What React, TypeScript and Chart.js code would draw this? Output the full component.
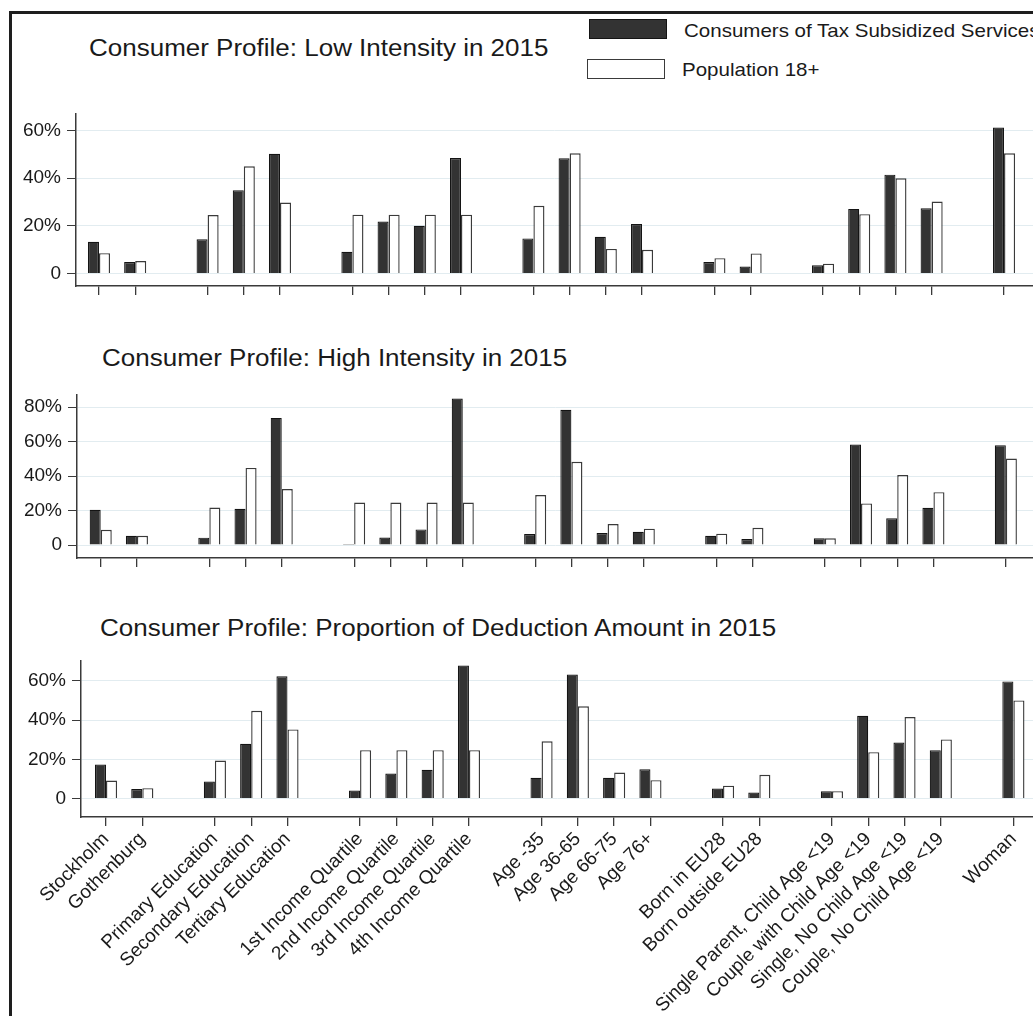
import React, { useEffect, useRef } from "react";
import { Chart, registerables } from "chart.js";

Chart.register(...registerables);

const FONT = "'Liberation Sans', Arial, Helvetica, sans-serif";
const TEXT = "#1a1a1a";

// ---------- data ----------
const categories = [
  "Stockholm",
  "Gothenburg",
  "Primary Education",
  "Secondary Education",
  "Tertiary Education",
  "1st Income Quartile",
  "2nd Income Quartile",
  "3rd Income Quartile",
  "4th Income Quartile",
  "Age -35",
  "Age 36-65",
  "Age 66-75",
  "Age 76+",
  "Born in EU28",
  "Born outside EU28",
  "Single Parent, Child Age <19",
  "Couple with Child Age <19",
  "Single, No Child Age <19",
  "Couple, No Child Age <19",
  "Woman",
];
// categories come in groups separated by an empty slot
const groupSizes = [2, 3, 4, 4, 2, 4, 1];

const seriesLabels = ["Consumers of Tax Subsidized Services", "Population 18+"];
const seriesFill = ["#333333", "#ffffff"];
const seriesBorder = ["#141414", "#3a3a3a"];

const lowConsumers = [13.3, 4.8, 14.3, 35.0, 50.3, 9.1, 21.8, 20.0, 48.5, 14.7, 48.4, 15.4, 20.8, 4.8, 2.9, 3.4, 27.1, 41.5, 27.4, 61.3];
const lowPopulation = [8.5, 5.2, 24.5, 45.0, 29.8, 24.7, 24.7, 24.7, 24.7, 28.4, 50.5, 10.3, 9.9, 6.4, 8.4, 4.1, 24.9, 40.0, 30.2, 50.5];

const highConsumers = [20.5, 5.4, 4.3, 21.1, 73.8, 0.6, 4.4, 9.1, 85.0, 6.4, 78.5, 7.0, 7.7, 5.4, 3.5, 3.9, 58.4, 15.5, 21.6, 58.0];
const highPopulation = [8.9, 5.4, 21.8, 44.8, 32.5, 24.7, 24.7, 24.7, 24.7, 29.0, 48.3, 12.2, 9.5, 6.6, 10.0, 3.9, 24.2, 40.6, 30.7, 50.2];

const dedConsumers = [17.4, 4.9, 8.7, 28.0, 62.4, 4.1, 12.8, 14.7, 67.9, 10.6, 63.3, 10.6, 15.0, 5.1, 3.1, 3.8, 42.3, 28.6, 24.7, 59.8];
const dedPopulation = [9.2, 5.3, 19.4, 44.8, 35.3, 24.7, 24.7, 24.7, 24.7, 29.2, 47.1, 13.3, 9.4, 6.6, 12.1, 3.8, 23.7, 41.6, 30.2, 50.1];

const yTicksLow = [0, 20, 40, 60];
const yTicksHigh = [0, 20, 40, 60, 80];
const yTicksDeduction = [0, 20, 40, 60];

const panelTitles = [
  "Consumer Profile: Low Intensity in 2015",
  "Consumer Profile: High Intensity in 2015",
  "Consumer Profile: Proportion of Deduction Amount in 2015",
];

// slot index of each category (groups separated by one empty slot)
function buildPositions(sizes: number[]): number[] {
  const out: number[] = [];
  let p = 0;
  sizes.forEach((n) => {
    for (let k = 0; k < n; k++) out.push(p++);
    p++;
  });
  return out;
}
const positions = buildPositions(groupSizes);

// ---------- layout ----------
type PanelCfg = {
  consumers: number[];
  population: number[];
  yTicks: number[];
  yMin: number;
  yMax: number;
  xMin: number;
  xMax: number;
  top: number;
  height: number;
  yWidth: number;
  xHeight: number;
  labels: boolean;
};

const panels: PanelCfg[] = [
  { consumers: lowConsumers, population: lowPopulation, yTicks: yTicksLow, yMin: -5.3, yMax: 67, xMin: -0.635, xMax: 25.8, top: 94, height: 212, yWidth: 76, xHeight: 20, labels: false },
  { consumers: highConsumers, population: highPopulation, yTicks: yTicksHigh, yMin: -7.5, yMax: 87.1, xMin: -0.655, xMax: 25.75, top: 375, height: 203, yWidth: 77, xHeight: 20, labels: false },
  { consumers: dedConsumers, population: dedPopulation, yTicks: yTicksDeduction, yMin: -9.4, yMax: 70.2, xMin: -0.689, xMax: 25.54, top: 641, height: 375, yWidth: 81, xHeight: 199, labels: true },
];

const titlePlace = [
  { left: 89, baseline: 56.7 },
  { left: 102, baseline: 366 },
  { left: 100, baseline: 636 },
];

function Panel({ cfg }: { cfg: PanelCfg }) {
  const ref = useRef<HTMLCanvasElement>(null);
  useEffect(() => {
    const labelAt = new Map<number, string>(positions.map((p, i) => [p, categories[i]]));
    const mk = (vals: number[]) => vals.map((v, i) => ({ x: positions[i], y: v }));
    const chart = new Chart(ref.current as HTMLCanvasElement, {
      type: "bar",
      data: {
        datasets: [
          {
            label: seriesLabels[0],
            data: mk(cfg.consumers),
            backgroundColor: seriesFill[0],
            borderColor: seriesBorder[0],
            borderWidth: 1.2,
            categoryPercentage: 0.61,
            barPercentage: 1,
          },
          {
            label: seriesLabels[1],
            data: mk(cfg.population),
            backgroundColor: seriesFill[1],
            borderColor: seriesBorder[1],
            borderWidth: 1.4,
            categoryPercentage: 0.61,
            barPercentage: 1,
          },
        ],
      } as any,
      options: {
        responsive: false,
        animation: false,
        devicePixelRatio: 1,
        layout: { padding: { top: 20, left: 0, right: 0, bottom: 0 } },
        plugins: {
          legend: { display: false },
          tooltip: { enabled: false },
          title: { display: false },
        },
        scales: {
          x: {
            type: "linear",
            min: cfg.xMin,
            max: cfg.xMax,
            bounds: "data",
            offset: false,
            afterBuildTicks: (s: any) => {
              s.ticks = positions.map((v) => ({ value: v }));
            },
            afterFit: (s: any) => {
              s.height = cfg.xHeight;
            },
            grid: {
              display: true,
              offset: false,
              drawOnChartArea: false,
              drawTicks: true,
              tickLength: 9,
              color: "#3a3a3a",
              tickColor: "#3a3a3a",
              lineWidth: 1.3,
            },
            border: { display: true, color: "#3a3a3a", width: 1.5 },
            ticks: {
              display: cfg.labels,
              autoSkip: false,
              maxRotation: 45,
              minRotation: 45,
              padding: 2,
              color: TEXT,
              font: { family: FONT, size: 19 },
              callback: (v: any) => labelAt.get(Number(v)) ?? "",
            },
          },
          y: {
            type: "linear",
            min: cfg.yMin,
            max: cfg.yMax,
            bounds: "data",
            afterBuildTicks: (s: any) => {
              s.ticks = cfg.yTicks.map((v) => ({ value: v }));
            },
            afterFit: (s: any) => {
              s.width = cfg.yWidth;
            },
            grid: {
              color: "#e2ecf0",
              lineWidth: 1,
              drawTicks: true,
              tickLength: 9,
              tickColor: "#3a3a3a",
            },
            border: { display: true, color: "#3a3a3a", width: 1.5 },
            ticks: {
              padding: 6,
              color: TEXT,
              font: { family: FONT, size: 19 },
              callback: (v: any) => (Number(v) === 0 ? "0" : `${v}%`),
            },
          },
        },
      } as any,
    });
    return () => chart.destroy();
  }, [cfg]);
  return (
    <canvas
      ref={ref}
      width={1033}
      height={cfg.height}
      style={{ position: "absolute", left: 0, top: cfg.top, width: 1033, height: cfg.height }}
    />
  );
}

function Text({ left, baseline, size, scaleX, children }: { left: number; baseline: number; size: number; scaleX: number; children: React.ReactNode }) {
  return (
    <div
      style={{
        position: "absolute",
        left,
        top: baseline - 0.8465 * size,
        fontSize: size,
        lineHeight: `${size}px`,
        whiteSpace: "nowrap",
        transform: `scaleX(${scaleX})`,
        transformOrigin: "0 0",
        color: TEXT,
        fontFamily: FONT,
      }}
    >
      {children}
    </div>
  );
}

export default function App() {
  return (
    <div
      style={{
        position: "fixed",
        left: 0,
        top: 0,
        width: 1033,
        height: 1016,
        overflow: "hidden",
        background: "#ffffff",
      }}
    >
      {/* outer frame (cropped on the right and bottom) */}
      <div
        style={{
          position: "absolute",
          left: 8.5,
          top: 11,
          width: 1200,
          height: 1200,
          border: "3px solid #1e1e1e",
          boxSizing: "border-box",
        }}
      />
      {panels.map((p, i) => (
        <Panel key={i} cfg={p} />
      ))}
      {panelTitles.map((t, i) => (
        <Text key={t} left={titlePlace[i].left} baseline={titlePlace[i].baseline} size={23} scaleX={1.13}>
          {t}
        </Text>
      ))}
      {/* legend */}
      <div
        style={{
          position: "absolute",
          left: 589,
          top: 19.3,
          width: 78,
          height: 20,
          background: seriesFill[0],
          border: `1.5px solid ${seriesBorder[0]}`,
          boxSizing: "border-box",
        }}
      />
      <div
        style={{
          position: "absolute",
          left: 586.7,
          top: 58.7,
          width: 78,
          height: 20,
          background: seriesFill[1],
          border: `1.5px solid ${seriesBorder[1]}`,
          boxSizing: "border-box",
        }}
      />
      <Text left={684} baseline={36.7} size={19} scaleX={1.08}>
        {seriesLabels[0]}
      </Text>
      <Text left={681.7} baseline={76} size={19} scaleX={1.08}>
        {seriesLabels[1]}
      </Text>
    </div>
  );
}
